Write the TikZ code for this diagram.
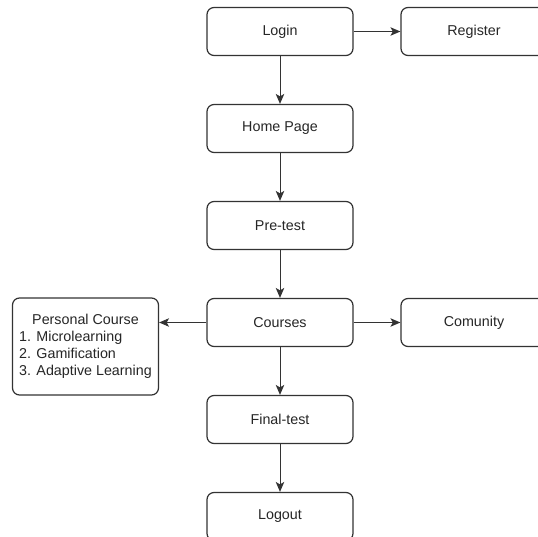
\documentclass[tikz,border=0pt]{standalone}
\usepackage{fontspec}
\setmainfont{Liberation Sans}
\usetikzlibrary{arrows.meta}
\definecolor{lc}{HTML}{333333}
\definecolor{tc}{HTML}{262626}
\tikzset{
  box/.style={draw=lc, line width=1.2pt, rounded corners=7pt, minimum width=146pt, minimum height=48pt, inner sep=0pt, text=tc, font=\fontsize{14.3pt}{17.3pt}\selectfont, fill=white},
  conn/.style={draw=lc, line width=1pt, -{Stealth[length=10pt,width=8.5pt,inset=2.5pt]}}
}
\begin{document}
\begin{tikzpicture}[x=1pt,y=-1pt]
\useasboundingbox (0,0) rectangle (538,537);
\clip (0,0) rectangle (538,537);
\fill[white] (0,0) rectangle (538,537);
\node[box] (login) at (280,31.5) {Login};
\node[box] (register) at (474,31.5) {Register};
\node[box] (home) at (280,128.5) {Home Page};
\node[box] (pre) at (280,225.5) {Pre-test};
\node[box] (courses) at (280,322.5) {Courses};
\node[box] (comm) at (474,322.5) {Comunity};
\node[box, minimum height=97pt, align=left] (personal) at (85.5,346.5) {\begin{tabular}{@{}l@{}}\multicolumn{1}{@{}c@{}}{Personal Course}\\1. Microlearning\\2. Gamification\\3. Adaptive Learning\end{tabular}};
\node[box] (final) at (280,419.5) {Final-test};
\node[box] (logout) at (280,516.5) {Logout};
\draw[conn] (login) -- (register);
\draw[conn] (login) -- (home);
\draw[conn] (home) -- (pre);
\draw[conn] (pre) -- (courses);
\draw[conn] (courses.west) -- (personal.east |- courses.west);
\draw[conn] (courses) -- (comm);
\draw[conn] (courses) -- (final);
\draw[conn] (final) -- (logout);
\end{tikzpicture}
\end{document}
